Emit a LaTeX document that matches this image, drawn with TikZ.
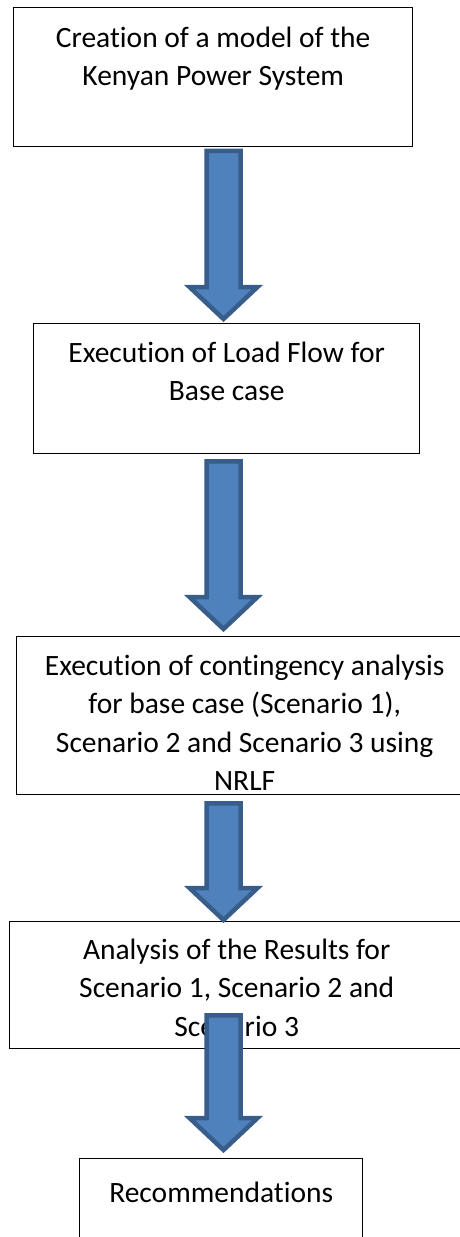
\documentclass[tikz,border=0pt]{standalone}
\usepackage{fontspec}
\setmainfont{Carlito}[Ligatures=NoCommon]
\usepackage{tikz}
\usetikzlibrary{shapes,positioning,calc}

\definecolor{arrowfill}{HTML}{4F81BD}
\definecolor{arrowline}{HTML}{385D8A}

\tikzset{
  flowbox/.style={draw, line width=1.4pt, rectangle, fill=white, anchor=north west, inner sep=0pt},
  boxtext/.style={align=center, inner sep=0pt, font=\fontsize{29.5}{38.5}\selectfont, execute at begin node={\rule{0pt}{26pt}}},
  blockarrow/.style={draw=arrowline, fill=arrowfill, line width=4.5pt, line join=miter},
}

% fat arrow: start below (#1) by #2, tip at (#3) shifted by #4
\newcommand{\flowarrow}[4]{%
  \draw[blockarrow] let \p1=($(#1 -| axis)+(0,#2)$), \p2=($(#3 -| axis)+(0,#4)$) in
    (\x1-17pt,\y1) -- (\x1+17pt,\y1) -- (\x1+17pt,\y2+32pt) -- (\x1+34pt,\y2+32pt)
    -- (\x2,\y2) -- (\x1-34pt,\y2+32pt) -- (\x1-17pt,\y2+32pt) -- cycle;}

\begin{document}
\begin{tikzpicture}[x=1pt,y=-1pt]
\useasboundingbox (0,0) rectangle (460,1237);
\clip (0,0) rectangle (460,1237);
\coordinate (axis) at (223.5,0);

% boxes
\node[flowbox, minimum width=399pt, minimum height=139pt] (model) at (13,7) {};
\node[boxtext, below=19.5pt of model.north] (modeltext) {Creation of a model of the\\Kenyan Power System};

\node[flowbox, minimum width=386pt, minimum height=130pt] (loadflow) at (33,323) {};
\node[boxtext, below=18.5pt of loadflow.north] (loadflowtext) {Execution of Load Flow for\\Base case};

\node[flowbox, minimum width=456pt, minimum height=158pt] (contingency) at (16,636) {};
\begin{scope}
  \clip (contingency.north west) rectangle ($(contingency.south east)+(0,-6)$);
  \node[boxtext, below=18.5pt of contingency.north] (contingencytext) {Execution of contingency analysis\\for base case (Scenario 1),\\Scenario 2 and Scenario 3 using\\NRLF};
\end{scope}

\node[flowbox, minimum width=454pt, minimum height=127pt] (results) at (9,921) {};
\node[boxtext, below=17.5pt of results.north] (resultstext) {Analysis of the Results for\\Scenario 1, Scenario 2 and\\Scenario 3};

\node[flowbox, minimum width=283pt, minimum height=120pt] (recommend) at (79,1158) {};
\node[boxtext, below=18.5pt of recommend.north] (recommendtext) {Recommendations};

% arrows
\flowarrow{model.south}{3.5}{loadflow.north}{-4}
\flowarrow{loadflow.south}{7}{contingency.north}{-7}
\flowarrow{contingency.south}{8}{results.north}{-1}
\flowarrow{results.south}{-34}{recommend.north}{-8}
\end{tikzpicture}
\end{document}
